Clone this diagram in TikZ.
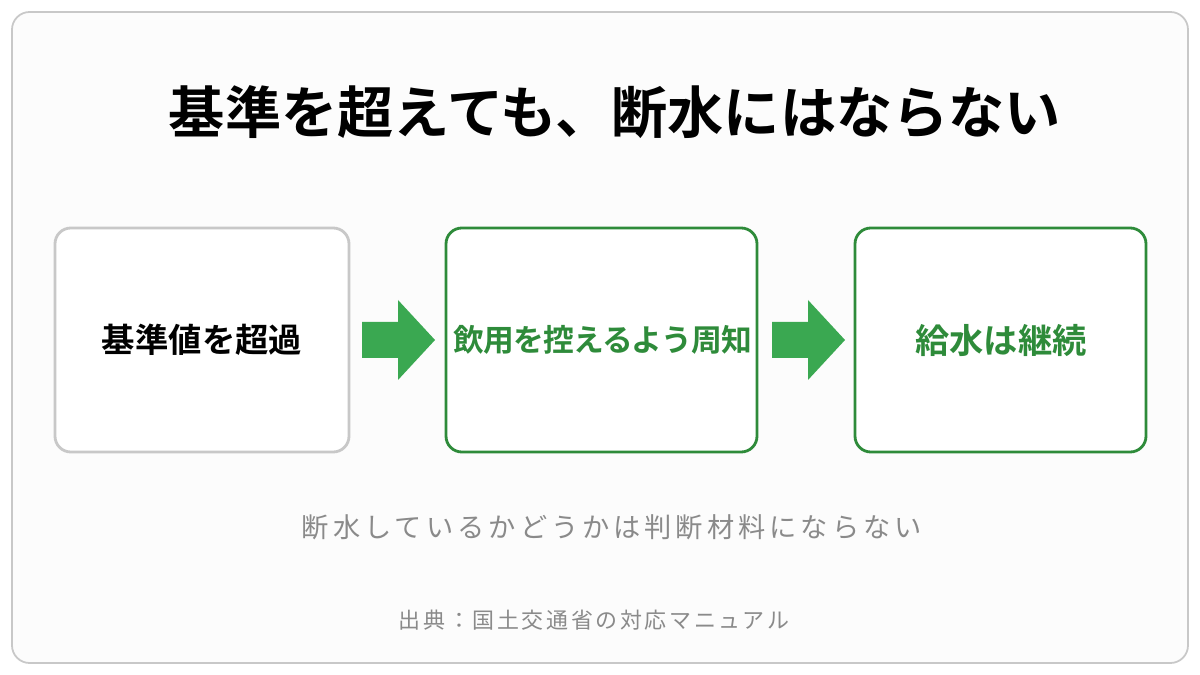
\documentclass[tikz,border=0pt]{standalone}
\usepackage{fontspec}
\setmainfont{Noto Sans CJK JP}
\newfontfamily\jpb{Noto Sans CJK JP Bold}
\definecolor{grn}{HTML}{2E8B3A}
\definecolor{agrn}{HTML}{3AA851}
\definecolor{frame}{HTML}{C8C8C8}
\definecolor{txtg}{HTML}{8A8A8A}
\begin{document}
\begin{tikzpicture}[x=0.02cm,y=-0.02cm,
  arr/.style={fill=agrn, draw=none}]
\useasboundingbox (0,0) rectangle (1200,675);
\fill[white] (0,0) rectangle (1200,675);
\draw[frame, line width=1pt, fill=white!99!black, rounded corners=10pt] (12,12) rectangle (1188,663);
\node (title) at (615,112) {\jpb\fontsize{32}{36}\selectfont 基準を超えても、断水にはならない};
\draw[frame, line width=1.6pt, rounded corners=9pt, fill=white] (55,228) rectangle (349,452);
\node (b1) at (202,340) {\jpb\fontsize{19}{22}\selectfont 基準値を超過};
\draw[grn, line width=1.6pt, rounded corners=9pt, fill=white] (446,228) rectangle (757,452);
\node[text=grn] (b2) at (603,340) {\jpb\fontsize{17.5}{20}\addfontfeature{LetterSpace=-3}\selectfont 飲用を控えるよう周知};
\draw[grn, line width=1.6pt, rounded corners=9pt, fill=white] (855,228) rectangle (1146,452);
\node[text=grn] (b3) at (1001,340) {\jpb\fontsize{19.5}{22}\selectfont 給水は継続};
\fill[arr] (362,322) -- (398,322) -- (398,300) -- (435,340) -- (398,380) -- (398,358) -- (362,358) -- cycle;
\fill[arr] (772,322) -- (808,322) -- (808,300) -- (845,340) -- (808,380) -- (808,358) -- (772,358) -- cycle;
\node[text=txtg] (sub) at (612,527) {\fontsize{15.5}{18}\addfontfeature{LetterSpace=15}\selectfont 断水しているかどうかは判断材料にならない};
\node[text=txtg] (src) at (594,620) {\fontsize{12.5}{15}\addfontfeature{LetterSpace=12}\selectfont 出典：国土交通省の対応マニュアル};
\end{tikzpicture}
\end{document}
